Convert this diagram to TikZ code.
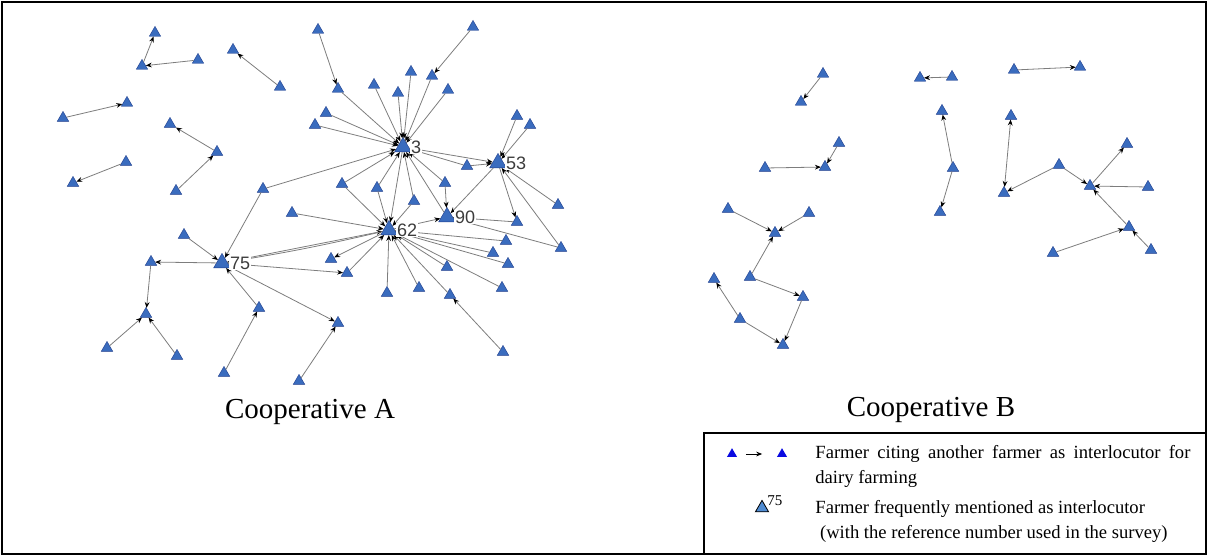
\documentclass[tikz,border=0pt]{standalone}
\usepackage{fontspec}
\setmainfont{Liberation Serif}
\newfontfamily\numfont{Liberation Sans}
\usetikzlibrary{shapes.geometric,arrows.meta}

\definecolor{farmblue}{RGB}{58,108,190}
\definecolor{farmline}{RGB}{30,60,140}
\definecolor{linkgray}{RGB}{125,125,125}
\definecolor{numgray}{RGB}{60,60,60}
\definecolor{keyblue}{RGB}{10,10,225}
\definecolor{keyhub}{RGB}{80,140,210}

\tikzset{x=0.5pt, y=-0.5pt,
 farmer/.style={regular polygon, regular polygon sides=3, fill=farmblue, draw=farmline,
   line width=0.2pt, inner sep=0pt, minimum size=6.6pt},
 hub/.style={farmer, minimum size=9.6pt},
 hubnum/.style={font=\numfont\fontsize{9}{10}\selectfont, text=numgray, fill=white,
   inner sep=0.4pt, anchor=west},
 cite/.style={draw=linkgray, line width=0.4pt, -{Stealth[length=3pt,width=2.4pt,black]}},
 cite2/.style={cite, {Stealth[length=3pt,width=2.4pt,black]}-{Stealth[length=3pt,width=2.4pt,black]}},
 coop/.style={font=\fontsize{14.5}{17}\selectfont},
 keytext/.style={font=\fontsize{9.3}{12.5}\selectfont, inner sep=0pt}}

\begin{document}
\begin{tikzpicture}
\useasboundingbox (0,0) rectangle (1208,556);
\draw[line width=1pt] (2,2) rectangle (1206,554);

% cooperative A
\node[hub] (n3) at (403,147) {};
\node[hub] (n53) at (498,163) {};
\node[hub] (n62) at (389,230) {};
\node[hub] (n75) at (222,263) {};
\node[hub] (n90) at (447,217) {};
\foreach \n/\x/\y in {a1/155/33, a2/142/66, a3/198/60, a4/233/50, a5/280/87, a6/63/118,
  a7/127/103, a8/170/124, a9/217/152, a10/176/191, a11/126/162, a12/73/183,
  b1/318/30, b2/338/89, b3/374/85, b4/398/93, b5/411/72, b6/432/76, b7/473/27,
  b8/448/90, b9/326/113, b10/315/125, b11/467/166,
  c1/517/116, c2/530/125, c3/558/205, c4/561/248, c5/517/222, c6/445/183,
  d1/263/189, d2/342/184, d3/377/188, d4/414/201, d5/292/213, d6/331/259,
  d7/347/273, d8/387/293, d9/419/288, d10/450/295, d11/503/352, d12/447/267,
  d13/502/288, d14/508/264, d15/493/253, d16/506/241,
  e1/184/235, e2/151/262, e3/146/314, e4/107/348, e5/177/356, e6/259/308,
  e7/224/373, e8/338/323, e9/299/381}
  \node[farmer] (\n) at (\x,\y) {};

\foreach \s/\t in {a3/a2, a2/a1, a5/a4, a6/a7, a9/a8, a10/a9, a11/a12,
  b1/b2, b7/b6, b2/n3, b3/n3, b4/n3, b5/n3, b6/n3, b8/n3, b9/n3, b10/n3, b11/n3,
  d1/n3, d2/n3, d3/n3, d4/n3, c6/n3, n90/n3,
  n3/n53, b11/n53, c1/n53, c2/n53, c3/n53, c4/n53, n53/c5, n53/n90,
  c6/n90, n62/n90, c5/n90, c4/n90,
  n3/n62, d2/n62, d3/n62, d4/n62, d5/n62, d7/n62, d8/n62, d9/n62, d10/n62,
  d12/n62, d13/n62, d14/n62, d15/n62, d16/n62, n62/d6, d11/d10,
  d1/n75, e1/n75, n75/e2, e2/e3, e4/e3, e5/e3, e6/n75, e7/e6, n75/e8, e9/e8,
  n75/d7, n75/n62}
  \draw[cite] (\s) -- (\t);
\draw[cite] (n62) to[bend left=2] (n75);

% reference numbers, on top of the links
\foreach \h/\t in {n3/3, n53/53, n62/62, n75/75, n90/90}
  \node[hubnum] (lbl\t) at ([xshift=0.6pt]\h.east) {\t};

% cooperative B
\foreach \n/\x/\y in {f1/823/74, f2/801/102, f3/839/143, f4/825/167, f5/765/168,
  f6/728/209, f7/809/213, f8/775/233, f9/750/277, f10/803/297, f11/783/345,
  f12/740/319, f13/714/279,
  g1/920/78, g2/952/77, g3/942/111, g4/953/168, g5/940/212,
  h1/1014/70, h2/1080/67, h3/1011/116, h4/1004/193, h5/1059/165, h6/1090/186,
  h7/1127/144, h8/1148/187, h9/1129/227, h10/1053/253, h11/1151/250}
  \node[farmer] (\n) at (\x,\y) {};

\foreach \s/\t in {f1/f2, f5/f4, f3/f4, f6/f8, f7/f8, f9/f8, f9/f10, f10/f11,
  f12/f11, f12/f13, g2/g1, g4/g3, g4/g5,
  h1/h2, h5/h4, h5/h6, h6/h7, h8/h6, h9/h6, h10/h9, h11/h9}
  \draw[cite] (\s) -- (\t);
\draw[cite2] (h3) -- (h4);

\node[coop] (coopA) at (310,412) {Cooperative A};
\node[coop] (coopB) at (931,410) {Cooperative B};

% legend
\draw[line width=0.8pt] (704,433) rectangle (1206,554);
\node[regular polygon, regular polygon sides=3, fill=keyblue, inner sep=0pt,
  minimum size=5.8pt] (lgA) at (732,454) {};
\node[regular polygon, regular polygon sides=3, fill=keyblue, inner sep=0pt,
  minimum size=5.8pt] (lgB) at (782,454) {};
\draw[-{Stealth[length=3pt,width=2.4pt]}, line width=0.5pt, shorten <=5pt,
  shorten >=8pt] (lgA) -- (lgB);
\node[farmer, fill=keyhub, draw=black, line width=0.4pt, minimum size=7.6pt,
  label={[font=\fontsize{7.5}{8}\selectfont, inner sep=0.5pt]20:75}] (lgHub) at (762,508) {};
\node[keytext, anchor=west, align=left] (lgText1) at (815,466)
  {\makebox[187.5pt][s]{Farmer citing another farmer as interlocutor for}\\dairy farming};
\node[keytext, anchor=west, align=left] (lgText2) at (815,521)
  {Farmer frequently mentioned as interlocutor\\\hspace*{0.25em}(with the reference number used in the survey)};
\end{tikzpicture}
\end{document}
